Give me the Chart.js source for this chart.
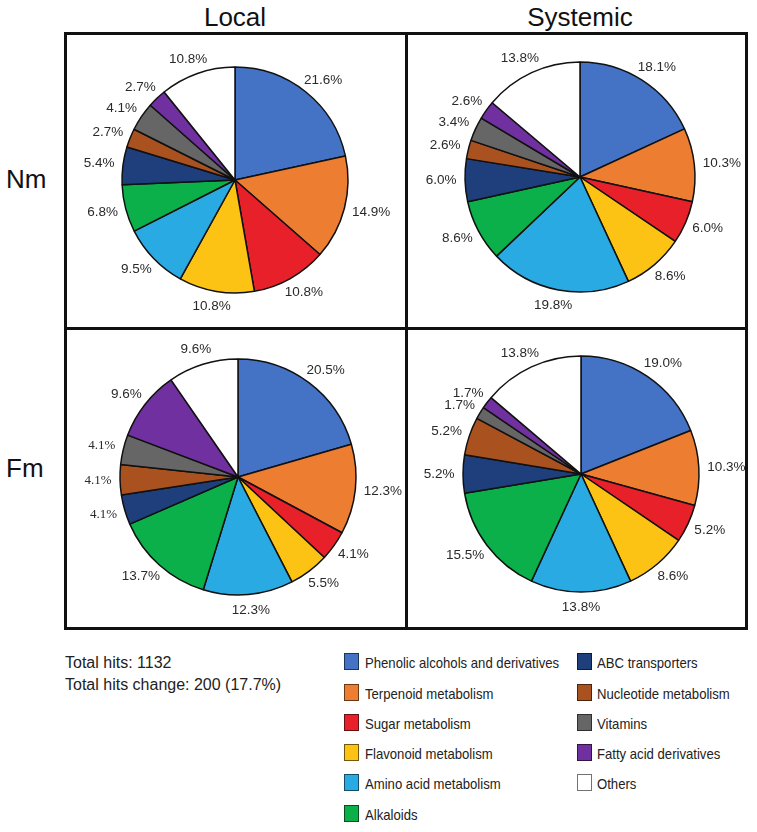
<!DOCTYPE html>
<html>
<head>
<meta charset="utf-8">
<script src="https://cdn.jsdelivr.net/npm/chart.js@4/dist/chart.umd.min.js"></script>
<style>
  body { margin: 0; background: #fff; font-family: "Liberation Sans", Arial, sans-serif; }
  #page { position: relative; width: 757px; height: 832px; overflow: hidden; }
  .abs { position: absolute; }
  .head { font-size: 26px; color: #111; transform: translateX(-50%); top: 2px; }
  .row { font-size: 26px; color: #111; left: 6px; }
  .box { left: 64px; top: 32px; width: 684px; height: 598px; border: 3px solid #111; box-sizing: border-box; }
  .vline { left: 405px; top: 32px; width: 3px; height: 598px; background: #111; }
  .hline { left: 64px; top: 327px; width: 684px; height: 3px; background: #111; }
  .total { left: 65px; font-size: 16px; color: #222; }
  .sw { width: 15px; height: 17px; box-sizing: border-box; border: 1px solid rgba(0,0,0,0.55); }
  .lt { font-family: "Liberation Sans Narrow", "Arial Narrow", "Liberation Sans", sans-serif; font-size: 15px; color: #222;
        transform: scaleX(0.875); transform-origin: 0 50%; white-space: nowrap; }
  canvas { position: absolute; }
</style>
</head>
<body>
<div id="page">
  <div class="abs box"></div>
  <div class="abs vline"></div>
  <div class="abs hline"></div>
  <div class="abs head" style="left:235px">Local</div>
  <div class="abs head" style="left:580px">Systemic</div>
  <div class="abs row" style="top:164px">Nm</div>
  <div class="abs row" style="top:453px">Fm</div>
  <div class="abs total" style="top:654px">Total hits: 1132</div>
  <div class="abs total" style="top:676px">Total hits change: 200 (17.7%)</div>
  <div id="legend"></div>
</div>
<script>
// categories, clockwise from 12 o'clock
const categories = ['Phenolic alcohols and derivatives', 'Terpenoid metabolism', 'Sugar metabolism',
  'Flavonoid metabolism', 'Amino acid metabolism', 'Alkaloids', 'ABC transporters',
  'Nucleotide metabolism', 'Vitamins', 'Fatty acid derivatives', 'Others'];
const colors = ['#4472c4', '#ed7d31', '#e8202a', '#fcc314', '#2aaae2', '#0bb04a', '#1f3e7c',
  '#a9511f', '#666666', '#7030a0', '#ffffff'];

const nmLocal    = [21.6, 14.9, 10.8, 10.8, 9.5, 6.8, 5.4, 2.7, 4.1, 2.7, 10.8];
const nmSystemic = [18.1, 10.3, 6.0, 8.6, 19.8, 8.6, 6.0, 2.6, 3.4, 2.6, 13.8];
const fmLocal    = [20.5, 12.3, 4.1, 5.5, 12.3, 13.7, 4.1, 4.1, 4.1, 9.6, 9.6];
const fmSystemic = [19.0, 10.3, 5.2, 8.6, 13.8, 15.5, 5.2, 5.2, 1.7, 1.7, 13.8];

// legend (html)
const legend = document.getElementById('legend');
const rowsY = [662, 693, 723, 753, 783, 814];
categories.forEach(function (c, i) {
  const col = i < 6 ? 0 : 1;
  const y = rowsY[col ? i - 6 : i];
  const sw = document.createElement('div');
  sw.className = 'abs sw';
  sw.style.left = (col ? 577 : 344) + 'px';
  sw.style.top = (y - 9) + 'px';
  sw.style.background = colors[i];
  legend.appendChild(sw);
  const t = document.createElement('div');
  t.className = 'abs lt';
  t.style.left = (col ? 597 : 365) + 'px';
  t.style.top = (y - 8) + 'px';
  t.textContent = c;
  legend.appendChild(t);
});

// percent labels outside each slice
const outLabels = {
  id: 'outLabels',
  afterDatasetsDraw(chart) {
    const ctx = chart.ctx;
    const ds = chart.data.datasets[0];
    const serif = ds.serifLabels || [];
    chart.getDatasetMeta(0).data.forEach(function (arc, i) {
      const mid = (arc.startAngle + arc.endAngle) / 2;
      const cx = Math.cos(mid), cy = Math.sin(mid);
      const txt = ds.data[i].toFixed(1) + '%';
      ctx.save();
      ctx.font = serif.indexOf(i) >= 0 ? '13px "Liberation Serif", serif' : '13.5px "Liberation Sans", Arial, sans-serif';
      ctx.fillStyle = '#2a2a2a';
      ctx.textAlign = 'center';
      ctx.textBaseline = 'middle';
      const w = ctx.measureText(txt).width;
      const d = arc.outerRadius + 8.5;
      ctx.fillText(txt, arc.x + cx * d + cx * w / 2, arc.y + cy * d + cy * 7);
      ctx.restore();
    });
  }
};

function makePie(values, cx, cy, r, serifLabels) {
  const W = 340, H = 290;
  const cv = document.createElement('canvas');
  cv.width = W; cv.height = H;
  cv.style.left = (cx - W / 2) + 'px';
  cv.style.top = (cy - H / 2) + 'px';
  document.getElementById('page').appendChild(cv);
  const pad = (H - 1.5) / 2 - r;
  return new Chart(cv.getContext('2d'), {
    type: 'pie',
    data: {
      labels: categories,
      datasets: [{
        data: values,
        backgroundColor: colors,
        borderColor: '#111',
        borderWidth: 1.5,
        serifLabels: serifLabels || []
      }]
    },
    options: {
      responsive: false,
      animation: false,
      layout: { padding: pad },
      plugins: { legend: { display: false }, tooltip: { enabled: false } }
    },
    plugins: [outLabels]
  });
}

makePie(nmLocal, 235, 180, 113);
makePie(nmSystemic, 580, 177, 115);
makePie(fmLocal, 238, 477, 118, [6, 7, 8]);
makePie(fmSystemic, 581, 474, 118);
</script>
</body>
</html>
